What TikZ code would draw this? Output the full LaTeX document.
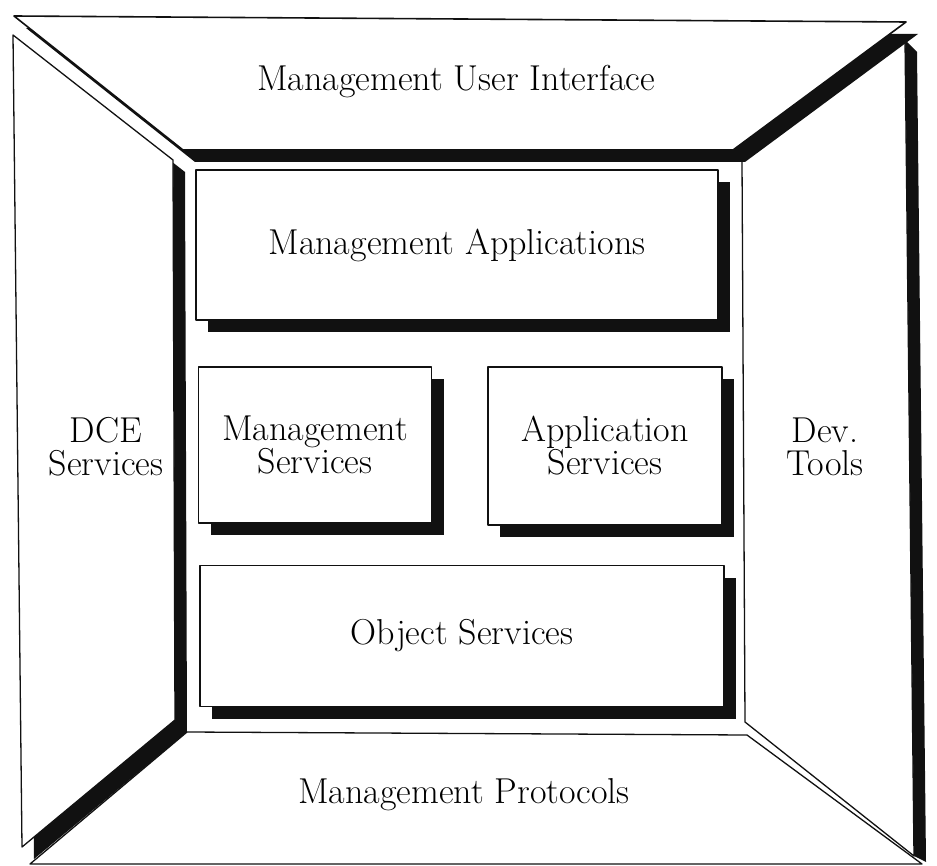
\documentclass[tikz,border=0pt]{standalone}
\usepackage{xcolor}
\usetikzlibrary{shadows}
\definecolor{ink}{HTML}{111111}

\begin{document}
\begin{tikzpicture}[x=1pt,y=-1pt,line cap=round,line join=round,
    font=\fontsize{36}{33}\selectfont,
    panel/.style={draw=ink,line width=1.3pt,fill=white},
    layer/.style={draw=ink,line width=1.6pt,fill=white,align=center,inner sep=0pt,
      drop shadow={shadow xshift=12pt,shadow yshift=-12pt,fill=ink,opacity=1}},
    caption/.style={align=center,inner sep=0pt}]
  \useasboundingbox (0,0) rectangle (937,866);
  % right wall and its band
  \fill[ink] (905,40) -- (917,52) -- (926,862) -- (914,856) -- cycle;
  \draw[panel] (742,160) -- (905,40) -- (914,856) -- (745,722) -- cycle;
  % floor
  \draw[panel] (187,732) -- (747,735) -- (922,864) -- (30,864) -- cycle;
  % left wall
  \fill[ink] (25,47) -- (185,172) -- (187,732) -- (34,859) -- cycle;
  \draw[panel] (13,35) -- (173,160) -- (175,720) -- (22,847) -- cycle;
  % ceiling
  \fill[ink] (26,28) -- (918,34) -- (745,162) -- (195,162) -- cycle;
  \draw[panel,line width=1.6pt] (14,16) -- (906,22) -- (733,150) -- (183,150) -- cycle;

  \node[caption] (ui) at (456,82) {Management User Interface};
  \node[caption] (proto) at (464,795) {Management Protocols};
  \node[caption] (dce) at (106,447) {DCE\\Services};
  \node[caption] (dev) at (825,447) {Dev.\\Tools};

  \node[layer,minimum width=522pt,minimum height=150pt] (apps) at (457,245) {Management Applications};
  \node[layer,minimum width=233pt,minimum height=156pt] (mgmt) at (315,445) {Management\\Services};
  \node[layer,minimum width=234pt,minimum height=158pt] (appsvc) at (605,446) {Application\\Services};
  \node[layer,minimum width=524pt,minimum height=141pt] (obj) at (462,636) {Object Services};
\end{tikzpicture}
\end{document}
